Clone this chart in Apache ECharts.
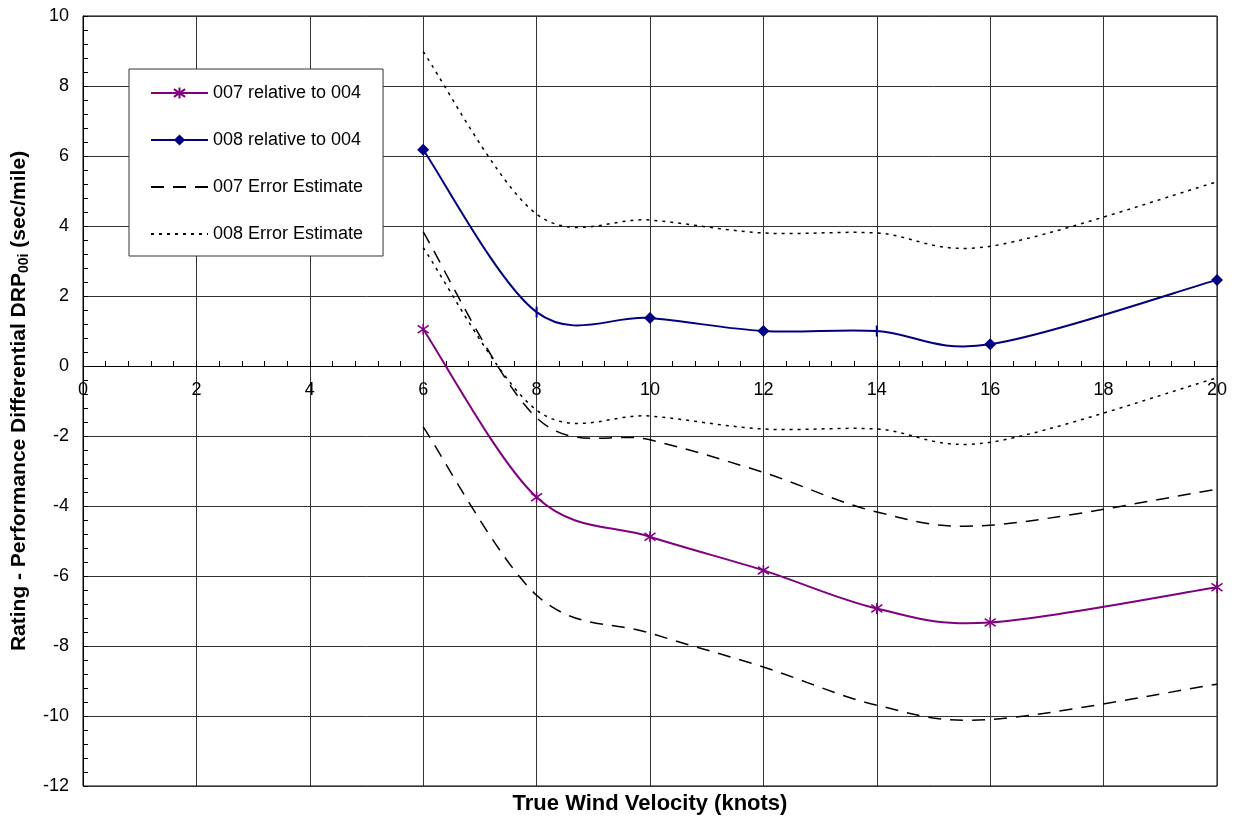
<!DOCTYPE html>
<html><head><meta charset="utf-8">
<script src="https://cdn.jsdelivr.net/npm/echarts@6/dist/echarts.min.js"></script>
<style>html,body{margin:0;padding:0;background:#fff}#c{width:1236px;height:820px}</style>
</head><body><div id="c"></div>
<script>
const windSpeeds = [6, 8, 10, 12, 14, 16, 20];
const rel007 = [1.05, -3.75, -4.88, -5.84, -6.93, -7.33, -6.32];
const rel008 = [6.18, 1.54, 1.37, 1.0, 1.0, 0.62, 2.46];
const err007Upper = [3.83, -1.48, -2.11, -3.04, -4.17, -4.55, -3.52];
const err007Lower = [-1.74, -6.55, -7.63, -8.6, -9.69, -10.1, -9.09];
const err008Upper = [8.98, 4.34, 4.17, 3.8, 3.8, 3.42, 5.26];
const err008Lower = [3.38, -1.26, -1.43, -1.8, -1.8, -2.18, -0.34];
const blueTickOnly = [8, 14];
const xTitle = 'True Wind Velocity (knots)';
const legendNames = ['007 relative to 004', '008 relative to 004', '007 Error Estimate', '008 Error Estimate'];

const font = 'Liberation Sans, Arial, sans-serif';
const pairs = (xs, ys) => xs.map((x, i) => [x, ys[i]]);
const star = 'path://M5,0L5,10M1.5,1.5L8.5,8.5M1.5,8.5L8.5,1.5';
const PURPLE = '#800080', NAVY = '#000080';
const DASH = [13, 9], DOT = [3, 5];

// Excel-like smoothed path (Catmull-Rom Bezier) through pixel points given by the axes
function smoothPath(pts) {
  let d = 'M' + pts[0][0] + ',' + pts[0][1];
  for (let i = 0; i < pts.length - 1; i++) {
    const p0 = pts[i - 1] || pts[i], p1 = pts[i], p2 = pts[i + 1], p3 = pts[i + 2] || pts[i + 1];
    const c1x = p1[0] + (p2[0] - p0[0]) / 6, c1y = p1[1] + (p2[1] - p0[1]) / 6;
    const c2x = p2[0] - (p3[0] - p1[0]) / 6, c2y = p2[1] - (p3[1] - p1[1]) / 6;
    d += 'C' + c1x + ',' + c1y + ',' + c2x + ',' + c2y + ',' + p2[0] + ',' + p2[1];
  }
  return d;
}
function curveSeries(id, ys, color, width, dash, z) {
  return {
    type: 'custom', name: id, coordinateSystem: 'cartesian2d', silent: true, z: z,
    data: pairs(windSpeeds, ys),
    renderItem: function (params, api) {
      if (params.dataIndex !== 0) return null;
      const pts = windSpeeds.map((x, i) => api.coord([x, ys[i]]));
      return {
        type: 'path',
        shape: {pathData: smoothPath(pts)},
        style: {fill: null, stroke: color, lineWidth: width, lineDash: dash}
      };
    }
  };
}

const chart = echarts.init(document.getElementById('c'), null, {renderer: 'canvas'});
const GRID = {left: 83, right: 19, top: 16, bottom: 34};
chart.setOption({
  backgroundColor: '#fff',
  animation: false,
  grid: Object.assign({show: true, borderColor: '#000', borderWidth: 1, backgroundColor: 'transparent'}, GRID),
  graphic: [{
    type: 'text',
    x: GRID.left + (1236 - GRID.left - GRID.right) / 2, y: 804,
    style: {text: xTitle, textAlign: 'center', textVerticalAlign: 'middle',
      font: 'bold 22px ' + font, fill: '#000'}
  }],
  legend: {
    left: 129, top: 69, orient: 'vertical',
    backgroundColor: '#fff', borderColor: '#333', borderWidth: 1,
    padding: [15, 20, 13, 21], itemGap: 29, itemWidth: 57, itemHeight: 14,
    textStyle: {fontFamily: font, fontSize: 18, color: '#000'},
    data: [
      {name: legendNames[0], lineStyle: {opacity: 1, color: PURPLE, width: 2, type: 'solid'}},
      {name: legendNames[1], lineStyle: {opacity: 1, color: NAVY, width: 2, type: 'solid'}},
      {name: legendNames[2], itemStyle: {opacity: 0}, lineStyle: {opacity: 1, color: '#000', width: 2, type: DASH}},
      {name: legendNames[3], itemStyle: {opacity: 0}, lineStyle: {opacity: 1, color: '#000', width: 2, type: DOT}}
    ]
  },
  xAxis: {
    type: 'value', min: 0, max: 20, interval: 2,
    offset: -420,
    axisLine: {onZero: false, lineStyle: {color: '#000', width: 1}},
    axisTick: {show: true, inside: true, length: 5, lineStyle: {color: '#000'}},
    minorTick: {show: true, splitNumber: 5, length: 5, lineStyle: {color: '#000'}},
    axisLabel: {fontFamily: font, fontSize: 18, color: '#000', margin: 15},
    splitLine: {show: true, lineStyle: {color: '#333', width: 1}}
  },
  yAxis: {
    type: 'value', min: -12, max: 10, interval: 2,
    axisLine: {show: true, onZero: false, lineStyle: {color: '#000', width: 1}},
    axisTick: {show: true, inside: true, length: 5, lineStyle: {color: '#000'}},
    minorTick: {show: true, splitNumber: 5, length: 5, lineStyle: {color: '#000'}},
    axisLabel: {fontFamily: font, fontSize: 18, color: '#000', margin: 14},
    splitLine: {show: true, lineStyle: {color: '#333', width: 1}},
    name: '{a|Rating - Performance Differential DRP}{s|00i}{a| (sec/mile)}',
    nameLocation: 'middle', nameGap: 52, nameRotate: 90,
    nameTextStyle: {
      rich: {
        a: {fontFamily: font, fontSize: 21, fontWeight: 'bold', color: '#000'},
        s: {fontFamily: font, fontSize: 14, fontWeight: 'bold', color: '#000', padding: [9, 0, 0, 0]}
      }
    }
  },
  series: [
    curveSeries('c007lo', err007Lower, '#000', 1.5, DASH, 3),
    curveSeries('c007up', err007Upper, '#000', 1.5, DASH, 3),
    curveSeries('c008lo', err008Lower, '#000', 1.5, DOT, 3),
    curveSeries('c008up', err008Upper, '#000', 1.5, DOT, 3),
    curveSeries('c007', rel007, PURPLE, 2, null, 4),
    curveSeries('c008', rel008, NAVY, 2, null, 4),
    {
      name: legendNames[0], type: 'line', z: 5,
      data: pairs(windSpeeds, rel007),
      symbol: star, symbolSize: 11,
      lineStyle: {color: PURPLE, width: 2, opacity: 0},
      itemStyle: {color: PURPLE, borderColor: PURPLE, borderWidth: 1.6}
    },
    {
      name: legendNames[1], type: 'line', z: 5,
      data: windSpeeds.map((x, i) => blueTickOnly.includes(x)
        ? {value: [x, rel008[i]], symbol: 'rect', symbolSize: [2, 11]}
        : [x, rel008[i]]),
      symbol: 'diamond', symbolSize: 12,
      lineStyle: {color: NAVY, width: 2, opacity: 0},
      itemStyle: {color: NAVY, borderColor: NAVY, borderWidth: 0}
    },
    {
      name: legendNames[2], type: 'line', symbol: 'none', z: 2,
      data: pairs(windSpeeds, err007Upper),
      lineStyle: {color: '#000', width: 1.5, type: DASH, opacity: 0},
      itemStyle: {color: '#000'}
    },
    {
      name: legendNames[3], type: 'line', symbol: 'none', z: 2,
      data: pairs(windSpeeds, err008Upper),
      lineStyle: {color: '#000', width: 1.5, type: DOT, opacity: 0},
      itemStyle: {color: '#000'}
    }
  ]
});
</script></body></html>
